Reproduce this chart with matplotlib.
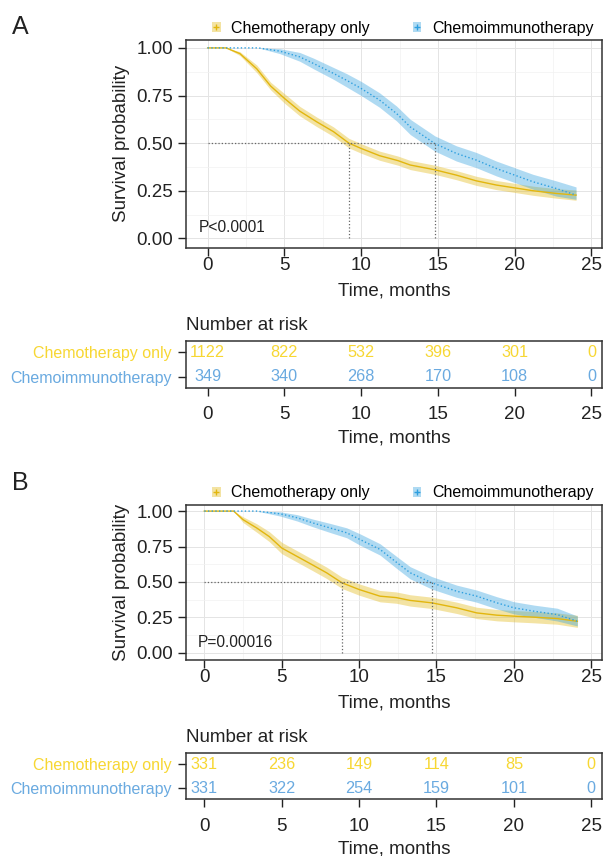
import matplotlib
matplotlib.use('Agg')
import matplotlib.pyplot as plt
from matplotlib.patches import Patch
from matplotlib.lines import Line2D
import numpy as np

plt.rcParams['font.family'] = ['Liberation Sans', 'DejaVu Sans']

# ---- data ----
groups = ['Chemotherapy only', 'Chemoimmunotherapy']
risk_times = [0, 5, 10, 15, 20, 25]

# panel A
a_chemo_t = [0, 1.2, 2.1, 3.2, 4.1, 5.0, 6.0, 7.1, 8.2, 9.2, 10.0, 11.2, 12.4, 13.2, 14.8, 16.2, 17.5, 18.8, 20.0, 21.2, 22.7, 24.0]
a_chemo_s = [1.0, 1.0, 0.97, 0.89, 0.80, 0.735, 0.668, 0.612, 0.56, 0.50, 0.472, 0.434, 0.408, 0.385, 0.36, 0.332, 0.302, 0.28, 0.265, 0.25, 0.236, 0.227]
a_chemo_lo = [1.0, 1.0, 0.96, 0.87, 0.78, 0.71, 0.643, 0.587, 0.535, 0.475, 0.447, 0.41, 0.384, 0.361, 0.336, 0.308, 0.278, 0.256, 0.241, 0.226, 0.211, 0.2]
a_chemo_hi = [1.0, 1.0, 0.98, 0.91, 0.82, 0.76, 0.693, 0.637, 0.585, 0.525, 0.497, 0.458, 0.432, 0.409, 0.384, 0.356, 0.326, 0.304, 0.289, 0.274, 0.261, 0.254]
a_immuno_t = [0, 3.3, 4.7, 6.0, 6.9, 8.2, 9.05, 10.0, 11.2, 12.3, 13.2, 14.8, 16.2, 17.5, 18.8, 20.0, 21.2, 22.7, 24.0]
a_immuno_s = [1.0, 1.0, 0.983, 0.953, 0.918, 0.866, 0.83, 0.787, 0.726, 0.656, 0.585, 0.498, 0.446, 0.411, 0.367, 0.332, 0.297, 0.262, 0.227]
a_immuno_lo = [1.0, 1.0, 0.97, 0.93, 0.89, 0.835, 0.795, 0.75, 0.688, 0.617, 0.545, 0.458, 0.406, 0.371, 0.328, 0.293, 0.258, 0.222, 0.205]
a_immuno_hi = [1.0, 1.0, 0.996, 0.976, 0.946, 0.897, 0.865, 0.824, 0.764, 0.695, 0.625, 0.538, 0.486, 0.451, 0.406, 0.371, 0.336, 0.302, 0.27]
a_medians = [9.2, 14.8]
a_pval = 'P<0.0001'
a_risk_chemo = [1122, 822, 532, 396, 301, 0]
a_risk_immuno = [349, 340, 268, 170, 108, 0]

# panel B
b_chemo_t = [0, 1.9, 2.5, 3.4, 4.2, 5.0, 6.0, 7.0, 7.9, 8.9, 10.0, 11.35, 12.4, 13.3, 14.7, 16.3, 17.6, 18.9, 20.0, 21.3, 22.8, 24.1]
b_chemo_s = [1.0, 1.0, 0.94, 0.88, 0.82, 0.74, 0.68, 0.62, 0.565, 0.494, 0.447, 0.40, 0.39, 0.37, 0.353, 0.318, 0.282, 0.266, 0.259, 0.252, 0.242, 0.223]
b_chemo_lo = [1.0, 1.0, 0.92, 0.85, 0.785, 0.70, 0.64, 0.58, 0.525, 0.454, 0.407, 0.36, 0.35, 0.33, 0.313, 0.278, 0.242, 0.226, 0.219, 0.212, 0.202, 0.18]
b_chemo_hi = [1.0, 1.0, 0.96, 0.91, 0.855, 0.78, 0.72, 0.66, 0.605, 0.534, 0.487, 0.44, 0.43, 0.41, 0.393, 0.358, 0.322, 0.306, 0.299, 0.292, 0.282, 0.265]
b_immuno_t = [0, 3.4, 4.9, 6.0, 7.0, 8.1, 9.2, 10.05, 11.35, 12.4, 13.3, 14.7, 16.3, 17.6, 18.9, 20.0, 21.3, 22.8, 24.1]
b_immuno_s = [1.0, 1.0, 0.981, 0.953, 0.917, 0.882, 0.847, 0.80, 0.73, 0.64, 0.565, 0.494, 0.435, 0.40, 0.353, 0.318, 0.294, 0.27, 0.223]
b_immuno_lo = [1.0, 1.0, 0.965, 0.93, 0.89, 0.85, 0.812, 0.76, 0.69, 0.598, 0.522, 0.45, 0.392, 0.357, 0.31, 0.275, 0.251, 0.225, 0.19]
b_immuno_hi = [1.0, 1.0, 0.995, 0.975, 0.944, 0.914, 0.882, 0.84, 0.77, 0.682, 0.608, 0.538, 0.478, 0.443, 0.396, 0.361, 0.337, 0.315, 0.26]
b_medians = [8.9, 14.7]
b_pval = 'P=0.00016'
b_risk_chemo = [331, 236, 149, 114, 85, 0]
b_risk_immuno = [331, 322, 254, 159, 101, 0]

# ---- styling ----
YEL, BLU = '#E2B60E', '#2E9FDF'
YEL_TXT, BLU_TXT = '#F7D733', '#6AAAE0'
DARK = '#222222'
W, H = 603, 856


def box(l, t, r, b):
    return [l / W, 1 - b / H, (r - l) / W, (b - t) / H]


fig = plt.figure(figsize=(W / 100, H / 100), dpi=100)


def km_panel(ax, xlim, curves, medians, pval, pval_xy, leg_y):
    ax.set_xlim(*xlim)
    ax.set_ylim(-0.048, 1.043)
    ax.set_xticks(np.arange(0, 26, 5))
    ax.set_yticks([0, 0.25, 0.5, 0.75, 1.0])
    ax.set_yticklabels(['0.00', '0.25', '0.50', '0.75', '1.00'])
    ax.set_xticks(np.arange(2.5, 26, 5), minor=True)
    ax.set_yticks(np.arange(0.125, 1.0, 0.25), minor=True)
    ax.grid(which='major', color='#E4E4E4', lw=0.7)
    ax.grid(which='minor', color='#F1F1F1', lw=0.5)
    ax.set_axisbelow(True)
    ax.tick_params(which='minor', length=0)
    ax.tick_params(axis='both', which='major', labelsize=13.5, length=5.5,
                   width=1, color=DARK, labelcolor=DARK)
    ax.tick_params(axis='x', pad=1.5)
    ax.tick_params(axis='y', pad=4)
    for s in ax.spines.values():
        s.set_color('#333333')
        s.set_linewidth(1.1)

    for (t, s, lo, hi), col, ls in zip(curves, [YEL, BLU], ['-', ':']):
        ax.fill_between(t, lo, hi, color=col, alpha=0.38, lw=0)
        ax.plot(t, s, color=col, lw=1.0, ls=ls)

    ax.plot([0, max(medians)], [0.5, 0.5], ls=':', color='#666666', lw=0.9)
    for m in medians:
        ax.plot([m, m], [0, 0.5], ls=':', color='#666666', lw=0.9)

    ax.text(pval_xy[0], pval_xy[1], pval, fontsize=11.2, color=DARK,
            ha='left', va='center')
    ax.set_xlabel('Time, months', fontsize=13.5, color=DARK, labelpad=6)
    ax.set_ylabel('Survival probability', fontsize=13.5, color=DARK, labelpad=4)

    handles = [(Patch(facecolor=c, alpha=0.38, lw=0),
                Line2D([], [], color=c, marker='+', ls='none', ms=4))
               for c in [YEL, BLU]]
    ax.legend(handles, groups, loc='center left', bbox_to_anchor=(0.062, leg_y),
              ncol=2, frameon=False, fontsize=11.5, handlelength=0.55,
              handleheight=0.55, handletextpad=0.65, columnspacing=2.7,
              borderpad=0, borderaxespad=0)


def risk_table(ax, xlim, risk_chemo, risk_immuno):
    ax.set_xlim(*xlim)
    ax.set_ylim(0.55, 2.45)
    ax.set_xticks(risk_times)
    ax.set_yticks([2, 1])
    ax.set_yticklabels(groups, fontsize=11.5)
    for lab, c in zip(ax.get_yticklabels(), [YEL_TXT, BLU_TXT]):
        lab.set_color(c)
    for t, a, b in zip(risk_times, risk_chemo, risk_immuno):
        ax.text(t, 2, str(a), color=YEL_TXT, fontsize=11.7, ha='center', va='center')
        ax.text(t, 1, str(b), color=BLU_TXT, fontsize=11.7, ha='center', va='center')
    ax.tick_params(axis='both', length=5.5, width=1, color=DARK)
    ax.tick_params(axis='x', labelsize=13.5, labelcolor=DARK, pad=8)
    ax.tick_params(axis='y', pad=5)
    for s in ax.spines.values():
        s.set_color('#333333')
        s.set_linewidth(1.1)
    ax.set_xlabel('Time, months', fontsize=13.5, color=DARK, labelpad=4)
    ax.set_title('Number at risk', fontsize=13.5, color=DARK, loc='left', pad=8)


xlimA = (-1.41, 25.69)
xlimB = (-1.18, 25.69)

axA = fig.add_axes(box(186, 39.7, 602, 247.5))
km_panel(axA, xlimA,
         [(a_chemo_t, a_chemo_s, a_chemo_lo, a_chemo_hi),
          (a_immuno_t, a_immuno_s, a_immuno_lo, a_immuno_hi)],
         a_medians, a_pval, (-0.61, 0.056), 1.056)
tabA = fig.add_axes(box(186, 341, 602, 387.7))
risk_table(tabA, xlimA, a_risk_chemo, a_risk_immuno)

axB = fig.add_axes(box(186, 505, 602, 659.7))
km_panel(axB, xlimB,
         [(b_chemo_t, b_chemo_s, b_chemo_lo, b_chemo_hi),
          (b_immuno_t, b_immuno_s, b_immuno_lo, b_immuno_hi)],
         b_medians, b_pval, (-0.39, 0.07), 1.078)
tabB = fig.add_axes(box(186, 753.3, 602, 799.3))
risk_table(tabB, xlimB, b_risk_chemo, b_risk_immuno)

fig.text(12 / W, 1 - 27 / H, 'A', fontsize=18, color=DARK, ha='left', va='center')
fig.text(12 / W, 1 - 483 / H, 'B', fontsize=18, color=DARK, ha='left', va='center')

fig.savefig('out.png', dpi=100)
plt.close()
